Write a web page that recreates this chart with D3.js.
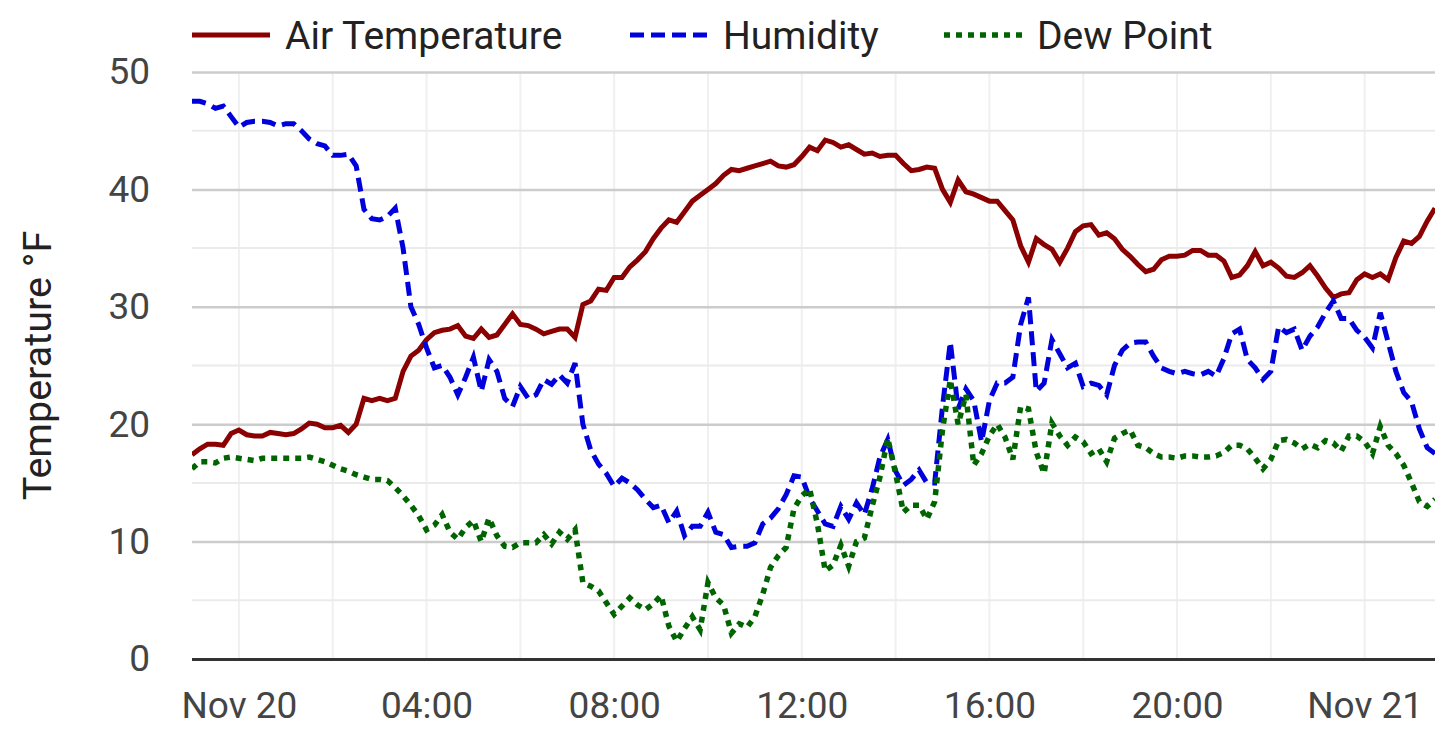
<!DOCTYPE html>
<html>
<head>
<meta charset="utf-8">
<script src="https://cdn.jsdelivr.net/npm/d3@7"></script>
<style>
  html, body { margin: 0; padding: 0; background: #fff; }
  svg { display: block; font-family: Roboto, "Noto Sans", sans-serif; }
</style>
</head>
<body>
<div id="chart"></div>
<script>
// readings every 10 minutes, starting Nov 19 23:00
const startTime = new Date(2023, 10, 19, 23, 0);
const stepMinutes = 10;

const airTemp = [
  17.4, 17.9, 18.3, 18.3, 18.2, 19.2, 19.5, 19.1, 19.0, 19.0,
  19.3, 19.2, 19.1, 19.2, 19.6, 20.1, 20.0, 19.7, 19.7, 19.9,
  19.3, 20.0, 22.2, 22.0, 22.2, 22.0, 22.2, 24.5, 25.8, 26.3,
  27.2, 27.8, 28.0, 28.1, 28.4, 27.5, 27.3, 28.1, 27.4, 27.6,
  28.5, 29.4, 28.5, 28.4, 28.1, 27.7, 27.9, 28.1, 28.1, 27.4,
  30.2, 30.5, 31.5, 31.4, 32.5, 32.5, 33.4, 34.0, 34.7, 35.8,
  36.7, 37.4, 37.2, 38.1, 39.0, 39.5, 40.0, 40.5, 41.2, 41.7,
  41.6, 41.8, 42.0, 42.2, 42.4, 42.0, 41.9, 42.1, 42.8, 43.6,
  43.3, 44.2, 44.0, 43.6, 43.8, 43.4, 43.0, 43.1, 42.8, 42.9,
  42.9, 42.2, 41.6, 41.7, 41.9, 41.8, 40.0, 38.9, 40.8, 39.8,
  39.6, 39.3, 39.0, 39.0, 38.2, 37.4, 35.2, 33.8, 35.8, 35.3,
  34.9, 33.8, 35.0, 36.4, 36.9, 37.0, 36.1, 36.3, 35.8, 34.9,
  34.3, 33.6, 33.0, 33.2, 34.0, 34.3, 34.3, 34.4, 34.8, 34.8,
  34.4, 34.4, 33.9, 32.5, 32.7, 33.5, 34.7, 33.5, 33.8, 33.3,
  32.6, 32.5, 32.9, 33.5, 32.6, 31.6, 30.8, 31.1, 31.2, 32.3,
  32.8, 32.5, 32.8, 32.3, 34.2, 35.6, 35.4, 36.0, 37.3, 38.4
];

const humidity = [
  47.5, 47.5, 47.3, 46.9, 47.1, 46.2, 45.3, 45.7, 45.8, 45.8,
  45.7, 45.4, 45.6, 45.6, 45.0, 44.3, 43.9, 43.7, 42.9, 42.9,
  43.0, 42.0, 38.3, 37.5, 37.4, 37.7, 38.4, 35.0, 30.0, 28.5,
  26.5, 24.8, 25.0, 24.0, 22.5, 24.0, 25.7, 22.8, 25.5, 24.5,
  22.2, 21.5, 23.2, 22.2, 22.5, 23.8, 23.4, 24.2, 23.5, 25.2,
  20.0, 17.8, 16.6, 15.8, 14.7, 15.4, 15.0, 14.4, 13.6, 12.9,
  13.1, 11.6, 12.6, 10.5, 11.3, 11.3, 12.5, 10.8, 10.6, 9.5,
  9.6, 9.6, 9.9, 11.5, 12.0, 12.8, 14.0, 15.6, 15.5, 13.7,
  12.6, 11.5, 11.3, 13.0, 11.9, 13.3, 12.3, 14.5, 17.2, 18.7,
  16.0, 14.8, 15.3, 16.1, 15.0, 15.0, 21.5, 27.0, 21.3, 23.0,
  22.0, 18.5, 22.0, 23.5, 23.5, 24.0, 28.5, 30.8, 22.8, 23.5,
  27.2, 26.0, 24.8, 25.2, 23.2, 23.5, 23.3, 22.5, 25.0, 26.3,
  26.9, 27.0, 27.0, 25.8, 24.8, 24.5, 24.3, 24.5, 24.3, 24.2,
  24.5, 24.1, 25.6, 27.7, 28.1, 25.5, 24.8, 23.8, 24.5, 28.3,
  27.8, 28.1, 26.3, 27.5, 28.3, 29.5, 30.5, 29.0, 29.0, 28.0,
  27.4, 26.5, 29.5, 27.0, 24.5, 22.7, 21.9, 19.6, 18.0, 17.5
];

const dewPoint = [
  16.2, 16.8, 16.8, 16.7, 17.1, 17.2, 17.1, 17.0, 16.9, 17.1,
  17.1, 17.1, 17.1, 17.1, 17.1, 17.2, 17.0, 16.8, 16.5, 16.2,
  16.0, 15.7, 15.5, 15.3, 15.3, 15.2, 14.6, 13.9, 13.1, 12.2,
  11.0, 11.4, 12.3, 10.8, 10.2, 11.2, 11.8, 10.0, 12.0, 10.5,
  9.6, 9.5, 9.9, 9.9, 9.9, 10.6, 9.8, 10.8, 10.2, 11.0,
  6.5, 6.2, 5.8, 4.8, 3.8, 4.5, 5.2, 4.6, 4.2, 4.7,
  5.4, 2.8, 1.5, 2.6, 3.6, 2.5, 6.5, 5.2, 4.6, 2.2,
  3.0, 2.7, 3.6, 5.5, 7.8, 8.8, 9.5, 12.8, 13.9, 14.5,
  11.5, 7.5, 8.0, 9.7, 7.9, 10.0, 10.3, 13.0, 15.5, 18.8,
  15.8, 12.5, 13.1, 13.1, 11.9, 13.4, 19.5, 23.8, 20.0, 22.5,
  16.5, 17.5, 19.0, 20.0, 18.9, 17.0, 21.5, 21.3, 17.6, 15.8,
  20.1, 19.0, 18.2, 18.9, 18.5, 17.5, 17.9, 16.8, 18.8, 19.2,
  19.5, 18.2, 18.0, 17.5, 17.2, 17.2, 17.1, 17.3, 17.3, 17.2,
  17.2, 17.3, 17.6, 18.2, 18.2, 17.9, 17.1, 16.2, 17.0, 18.6,
  18.7, 18.4, 17.9, 18.3, 18.0, 18.6, 18.4, 17.7, 19.0, 19.0,
  18.5, 17.5, 19.8, 18.2, 17.5, 16.5, 15.0, 13.4, 13.0, 13.6
];

const seriesNames = ['Air Temperature', 'Humidity', 'Dew Point'];
const yTicks = [0, 10, 20, 30, 40, 50];

const times = airTemp.map((_, i) => d3.timeMinute.offset(startTime, i * stepMinutes));

const series = [
  { name: seriesNames[0], values: airTemp,  color: '#8b0000', dash: null,   width: 5 },
  { name: seriesNames[1], values: humidity, color: '#0000dd', dash: '14,7', width: 5 },
  { name: seriesNames[2], values: dewPoint, color: '#006400', dash: '6,6',  width: 5.5 }
];

const W = 1435, H = 739;
const margin = { top: 72, right: 0, bottom: 80, left: 192 };
const width = W - margin.left - margin.right;
const height = H - margin.top - margin.bottom;

const svg = d3.select('#chart').append('svg')
  .attr('width', W)
  .attr('height', H);

const g = svg.append('g')
  .attr('transform', `translate(${margin.left},${margin.top})`);

const x = d3.scaleTime()
  .domain(d3.extent(times))
  .range([0, width]);

const y = d3.scaleLinear()
  .domain([0, 50])
  .range([height, 0]);

// vertical light grid every 2 hours
g.append('g')
  .selectAll('line')
  .data(x.ticks(d3.timeHour.every(2)))
  .join('line')
    .attr('x1', d => x(d)).attr('x2', d => x(d))
    .attr('y1', 0).attr('y2', height)
    .attr('stroke', '#f0f0f0')
    .attr('stroke-width', 2);

// minor horizontal grid
g.append('g')
  .selectAll('line')
  .data(d3.range(5, 50, 10))
  .join('line')
    .attr('x1', 0).attr('x2', width)
    .attr('y1', d => y(d)).attr('y2', d => y(d))
    .attr('stroke', '#ebebeb')
    .attr('stroke-width', 2);

// major horizontal grid + labels
const yAxis = g.append('g')
  .call(d3.axisLeft(y).tickValues(yTicks).tickSize(-width).tickPadding(42));
yAxis.select('.domain').remove();
yAxis.selectAll('.tick line')
  .attr('stroke', d => d === 0 ? '#333' : '#cccccc')
  .attr('stroke-width', d => d === 0 ? 3 : 2.5);
yAxis.selectAll('.tick text')
  .attr('fill', '#444')
  .attr('font-size', 37)
  .attr('font-family', 'Roboto');

// x axis
const fmt = d => d.getHours() === 0 ? d3.timeFormat('%b %d')(d) : d3.timeFormat('%H:%M')(d);
const xAxis = g.append('g')
  .attr('transform', `translate(0,${height})`)
  .call(d3.axisBottom(x).ticks(d3.timeHour.every(4)).tickFormat(fmt).tickSize(0).tickPadding(33));
xAxis.select('.domain').remove();
xAxis.selectAll('.tick text')
  .attr('fill', '#444')
  .attr('font-size', 37)
  .attr('font-family', 'Roboto')
  .attr('dy', '0.71em');

// lines
const line = d3.line()
  .x((d, i) => x(times[i]))
  .y(d => y(d));

g.append('defs').append('clipPath').attr('id', 'clip')
  .append('rect').attr('x', 0).attr('y', -10).attr('width', width).attr('height', height + 10);

g.append('g').attr('clip-path', 'url(#clip)')
  .selectAll('path')
  .data(series)
  .join('path')
    .attr('d', d => line(d.values))
    .attr('fill', 'none')
    .attr('stroke', d => d.color)
    .attr('stroke-width', d => d.width)
    .attr('stroke-dasharray', d => d.dash)
    .attr('stroke-linejoin', 'miter');

// y title
svg.append('text')
  .attr('transform', `translate(51,${margin.top + height / 2}) rotate(-90)`)
  .attr('text-anchor', 'middle')
  .attr('fill', '#222')
  .attr('font-size', 39.5)
  .text('Temperature °F');

// legend
const legendX = [192, 630, 944];
const legend = svg.append('g')
  .selectAll('g')
  .data(series)
  .join('g')
    .attr('transform', (d, i) => `translate(${legendX[i]},35)`);
legend.append('line')
  .attr('x1', 0).attr('x2', 78)
  .attr('stroke', d => d.color)
  .attr('stroke-width', d => d.width)
  .attr('stroke-dasharray', d => d.dash);
legend.append('text')
  .attr('x', 93)
  .attr('dy', '0.35em')
  .attr('fill', '#222')
  .attr('font-size', 39)
  .text(d => d.name);
</script>
</body>
</html>
